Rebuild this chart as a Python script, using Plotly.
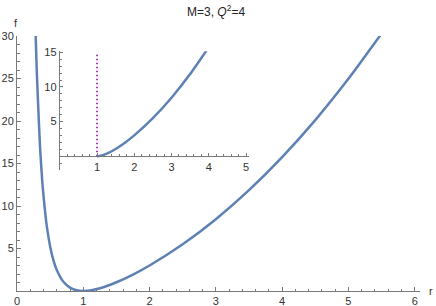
import plotly.graph_objects as go

# ---- data ----
r_main = [0.26, 0.28, 0.30, 0.33, 0.35, 0.38, 0.40, 0.45, 0.50, 0.55, 0.60, 0.70, 0.80, 0.90, 1.00,
          1.10, 1.25, 1.50, 1.75, 2.00, 2.50, 3.00, 3.50, 4.00, 4.50, 5.00, 5.50]
f_main = [37.2, 30.5, 25.5, 19.9, 16.6, 13.0, 11.2, 7.6, 5.25, 3.6, 2.47, 1.08, 0.39, 0.08, 0.0,
          0.06, 0.32, 1.03, 1.94, 3.0, 5.49, 8.44, 11.86, 15.75, 20.11, 24.96, 30.29]

r_inset = [1.00, 1.10, 1.25, 1.50, 1.75, 2.00, 2.50, 3.00, 3.50, 4.00]
f_inset = [0.0, 0.06, 0.32, 1.03, 1.94, 3.0, 5.49, 8.44, 11.86, 15.75]

horizon_r = [1, 1]
horizon_f = [0, 15]

main_xticks = [0, 1, 2, 3, 4, 5, 6]
main_yticks = [5, 10, 15, 20, 25, 30]
inset_xticks = [1, 2, 3, 4, 5]
inset_yticks = [5, 10, 15]

title_text = "M=3, <i>Q</i><sup>2</sup>=4"

# ---- figure ----
CURVE = "#5E81B5"
AXIS = "#7a7a7a"
TXT = "#333333"
FONT = "Liberation Sans"

fig = go.Figure()
fig.add_trace(go.Scatter(x=r_main, y=f_main, mode="lines", line=dict(color=CURVE, width=2.5, shape="spline", smoothing=0.6),
                         xaxis="x", yaxis="y", showlegend=False, hoverinfo="skip"))
fig.add_trace(go.Scatter(x=r_inset, y=f_inset, mode="lines", line=dict(color=CURVE, width=2.5, shape="spline", smoothing=0.6),
                         xaxis="x2", yaxis="y2", showlegend=False, hoverinfo="skip"))
fig.add_trace(go.Scatter(x=horizon_r, y=horizon_f, mode="lines", line=dict(color="#9a00b0", width=1.6, dash="1.5px,2.5px"),
                         xaxis="x2", yaxis="y2", showlegend=False, hoverinfo="skip"))

W, H = 436, 306
ml, mr, mt, mb = 17, 16, 36, 15
pw, ph = W - ml - mr, H - mt - mb

def px(x):
    return (x - ml) / pw

def py(y):
    return (H - mb - y) / ph

minor_x = [i * 0.2 for i in range(0, 31) if i % 5 != 0]
minor_y = [i for i in range(0, 31) if i % 5 != 0]
inset_minor_x = [i * 0.2 for i in range(0, 26) if i % 5 != 0]
inset_minor_y = [i for i in range(-2, 16) if i % 5 != 0]

axis_common = dict(showline=True, linecolor=AXIS, linewidth=1, showgrid=False, zeroline=False,
                   ticks="inside", tickcolor=AXIS, tickwidth=1, automargin=False,
                   tickfont=dict(family=FONT, size=11, color=TXT))

fig.update_layout(
    width=W, height=H,
    margin=dict(l=ml, r=mr, t=mt, b=mb, autoexpand=False),
    paper_bgcolor="white", plot_bgcolor="rgba(0,0,0,0)",
    showlegend=False,
    xaxis=dict(range=[0, 6.08], domain=[0, 1], tickvals=main_xticks, ticklen=4,
               minor=dict(tickvals=minor_x, ticklen=2.5, ticks="inside", tickcolor=AXIS),
               anchor="y", **axis_common),
    yaxis=dict(range=[0, 30], domain=[0, 1], tickvals=main_yticks, ticklen=4,
               minor=dict(tickvals=minor_y, ticklen=2.5, ticks="inside", tickcolor=AXIS),
               anchor="x", **axis_common),
    xaxis2=dict(range=[0, 5.08], domain=[px(59.75), px(249)], tickvals=inset_xticks, ticklen=3,
                minor=dict(tickvals=inset_minor_x, ticklen=2, ticks="inside", tickcolor=AXIS),
                anchor="free", position=py(156.3), **axis_common),
    yaxis2=dict(range=[-2, 15.15], domain=[py(170), py(51.3)], tickvals=inset_yticks, ticklen=3,
                minor=dict(tickvals=inset_minor_y, ticklen=2, ticks="inside", tickcolor=AXIS),
                anchor="x2", **axis_common),
    annotations=[
        dict(text=title_text, x=px(216), y=py(11), xref="paper", yref="paper", showarrow=False,
             font=dict(family=FONT, size=12, color="#222"), xanchor="center", yanchor="middle"),
        dict(text="f", x=px(16), y=py(23), xref="paper", yref="paper", showarrow=False,
             font=dict(family=FONT, size=11, color=TXT), xanchor="center", yanchor="middle"),
        dict(text="r", x=px(431), y=py(291), xref="paper", yref="paper", showarrow=False,
             font=dict(family=FONT, size=11, color=TXT), xanchor="center", yanchor="middle"),
    ],
)

fig.write_html("out.html", config={"displayModeBar": False},
               post_script="document.body.style.margin='0';document.body.style.padding='0';")
